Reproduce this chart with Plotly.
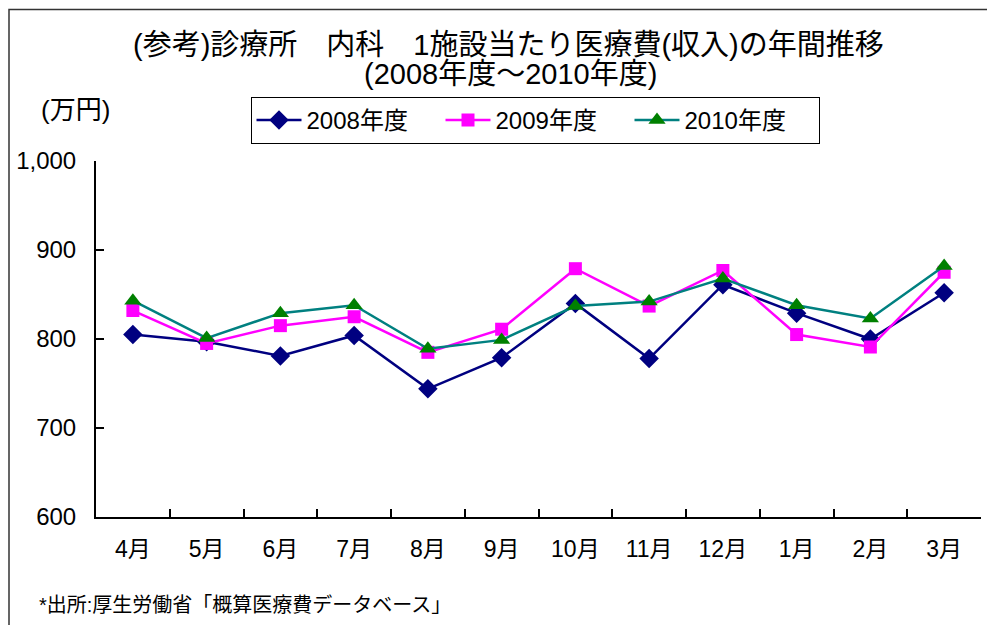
import plotly.graph_objects as go

months = ["4月", "5月", "6月", "7月", "8月", "9月", "10月", "11月", "12月", "1月", "2月", "3月"]
fy2008 = [805, 797, 781, 804, 744, 779, 840, 778, 861, 829, 800, 852]
fy2009 = [832, 795, 815, 825, 785, 811, 879, 837, 877, 805, 791, 875]
fy2010 = [843, 801, 829, 838, 789, 799, 837, 842, 868, 838, 823, 882]
series_names = ["2008年度", "2009年度", "2010年度"]
y_ticks = [600, 700, 800, 900, 1000]
y_tick_labels = ["600", "700", "800", "900", "1,000"]

FONT = "Liberation Sans, Arial, Noto Sans CJK JP, sans-serif"

# page is drawn with an 8px body margin, so compensate in figure margins
PL, PT, PW, PH = 96, 161, 885, 356   # desired plot area in page pixels
OFF = 8

def px(x):
    return (x - PL) / PW

def py(y):
    return (PT + PH - y) / PH

fig = go.Figure()
fig.add_trace(go.Scatter(x=months, y=fy2008, name=series_names[0], mode="lines+markers",
                         line=dict(color="#000080", width=2.5),
                         marker=dict(symbol="diamond", size=15, color="#000080")))
fig.add_trace(go.Scatter(x=months, y=fy2009, name=series_names[1], mode="lines+markers",
                         line=dict(color="#FF00FF", width=2.5),
                         marker=dict(symbol="square", size=13, color="#FF00FF")))
fig.add_trace(go.Scatter(x=months, y=fy2010, name=series_names[2], mode="lines+markers",
                         line=dict(color="#008080", width=2.5),
                         marker=dict(symbol="triangle-up", size=15, color="#008000")))

W, H = 987, 617
fig.update_layout(
    width=W, height=H,
    margin=dict(l=PL - OFF, r=W - (PL - OFF) - PW, t=PT - OFF, b=H - (PT - OFF) - PH, autoexpand=False),
    paper_bgcolor="white", plot_bgcolor="white",
    font=dict(family=FONT, size=20, color="black"),
    showlegend=True,
    legend=dict(orientation="h", x=px(535), xanchor="center", y=py(97), yanchor="top",
                bordercolor="black", borderwidth=1, bgcolor="white",
                font=dict(size=24), itemwidth=45, entrywidth=129, entrywidthmode="pixels",
                tracegroupgap=0),
    xaxis=dict(type="category", range=[-0.5, 11.5], showline=True, linecolor="black", linewidth=2,
               ticks="inside", tickson="boundaries", ticklen=8, tickcolor="black", tickwidth=1.5,
               showgrid=False, zeroline=False, tickfont=dict(size=23), ticklabelstandoff=10),
    yaxis=dict(range=[600, 1000], tickvals=y_ticks, ticktext=y_tick_labels,
               showline=True, linecolor="black", linewidth=2, ticks="inside",
               ticklen=8, tickcolor="black", tickwidth=1.5, showgrid=False,
               zeroline=False, tickfont=dict(size=24), ticklabelstandoff=13),
    annotations=[
        dict(text="(参考)診療所　内科　1施設当たり医療費(収入)の年間推移", xref="paper", yref="paper",
             x=px(508), y=py(45), xanchor="center", yanchor="middle",
             showarrow=False, font=dict(size=29)),
        dict(text="(2008年度～2010年度)", xref="paper", yref="paper",
             x=px(510), y=py(74), xanchor="center", yanchor="middle",
             showarrow=False, font=dict(size=29)),
        dict(text="(万円)", xref="paper", yref="paper",
             x=px(39), y=py(110), xanchor="left", yanchor="middle",
             showarrow=False, font=dict(size=26)),
        dict(text="*出所:厚生労働省「概算医療費データベース」", xref="paper", yref="paper",
             x=px(37), y=py(605), xanchor="left", yanchor="middle",
             showarrow=False, font=dict(size=20)),
    ],
    shapes=[
        dict(type="rect", xref="paper", yref="paper",
             x0=px(9), x1=px(1010), y0=py(640), y1=py(9.5),
             line=dict(color="#333333", width=1.5), fillcolor="rgba(0,0,0,0)", layer="below"),
    ],
)

fig.write_html("out.html")
